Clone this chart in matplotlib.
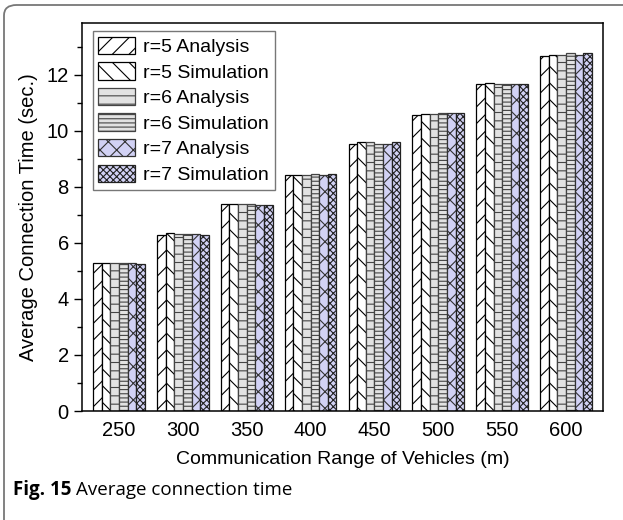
import matplotlib
matplotlib.use("Agg")
import matplotlib.pyplot as plt
from matplotlib.patches import FancyBboxPatch
import numpy as np

plt.rcParams['font.family'] = ['Liberation Sans', 'DejaVu Sans']
plt.rcParams['hatch.linewidth'] = 0.8

ranges = [250, 300, 350, 400, 450, 500, 550, 600]
series = ["r=5 Analysis", "r=5 Simulation", "r=6 Analysis",
          "r=6 Simulation", "r=7 Analysis", "r=7 Simulation"]

r5_analysis = [5.29, 6.28, 7.38, 8.44, 9.53, 10.57, 11.66, 12.68]
r5_simulation = [5.29, 6.34, 7.40, 8.42, 9.59, 10.59, 11.71, 12.72]
r6_analysis = [5.29, 6.32, 7.38, 8.42, 9.61, 10.59, 11.68, 12.71]
r6_simulation = [5.27, 6.32, 7.38, 8.46, 9.53, 10.63, 11.68, 12.77]
r7_analysis = [5.29, 6.32, 7.37, 8.44, 9.53, 10.63, 11.66, 12.71]
r7_simulation = [5.26, 6.27, 7.34, 8.45, 9.59, 10.65, 11.67, 12.77]
values = [r5_analysis, r5_simulation, r6_analysis,
          r6_simulation, r7_analysis, r7_simulation]

fills = ['white', 'white', '#e2e2e2', '#e2e2e2', '#d2d2f5', '#d2d2f5']
edges = ['black', 'black', '#444444', '#444444', '#333333', '#222222']
hatches = ['//', '\\\\', '--', '----', 'xx', 'xxxxx']

fig = plt.figure(figsize=(6.23, 5.2), dpi=100)
ax = fig.add_axes([0.1316, 0.2096, 0.8364, 0.7462])

x = np.arange(len(ranges))
w = 0.135
for i, (vals, name) in enumerate(zip(values, series)):
    ax.bar(x + (i - 2.5) * w, vals, w, color=fills[i], edgecolor=edges[i],
           hatch=hatches[i], linewidth=0.9, label=name)

ax.set_xlim(-0.58, 7.58)
ax.set_ylim(0, 13.85)
ax.set_xticks(x)
ax.set_xticklabels([str(r) for r in ranges])
ax.set_yticks(np.arange(0, 13, 2))
ax.set_yticks(np.arange(1, 14, 2), minor=True)
ax.tick_params(axis='y', which='major', direction='out', length=6, width=1,
               labelsize=14.5)
ax.tick_params(axis='y', which='minor', direction='out', length=3.5, width=1)
ax.tick_params(axis='x', which='both', length=0, labelsize=14.5, pad=7)
for s in ax.spines.values():
    s.set_linewidth(1.1)

ax.set_xlabel("Communication Range of Vehicles (m)", fontsize=14, labelpad=8)
ax.set_ylabel("Average Connection Time (sec.)", fontsize=14.5, labelpad=6)

leg = ax.legend(loc='upper left', bbox_to_anchor=(0.013, 0.99), fontsize=14,
                frameon=True, fancybox=False, edgecolor='#555555',
                handlelength=1.9, handleheight=1.0, handletextpad=0.4,
                labelspacing=0.32, borderpad=0.3, borderaxespad=0.2)
leg.get_frame().set_linewidth(1.0)

# rounded journal frame (left/top visible)
frame = FancyBboxPatch((4 / 623, -0.2), 1.2, 1.2 - 5 / 520,
                       boxstyle="round,pad=0,rounding_size=0.02",
                       transform=fig.transFigure, fill=False,
                       edgecolor='#777777', linewidth=1.3, clip_on=False)
fig.patches.append(frame)

cap_y = 1 - 490 / 520
bold = fig.text(13 / 623, cap_y, "Fig. 15", fontsize=13.5,
                fontweight='bold', family=['Open Sans', 'DejaVu Sans'],
                va='center')
fig.canvas.draw()
bb = bold.get_window_extent()
fig.text((bb.x1 + 5) / 623, cap_y, "Average connection time", fontsize=13.5,
         family=['Open Sans', 'DejaVu Sans'], va='center')

fig.savefig("out.png", dpi=100)
